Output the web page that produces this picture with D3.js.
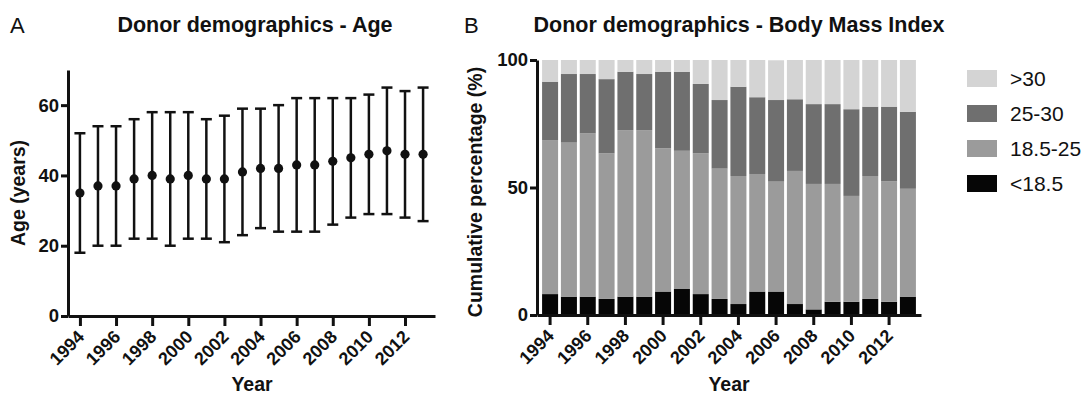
<!DOCTYPE html>
<html>
<head>
<meta charset="utf-8">
<script src="https://cdn.jsdelivr.net/npm/d3@7"></script>
<style>
	body { margin: 0; background: #fff; }
	text { font-family: "Liberation Sans", Arial, Helvetica, sans-serif; fill: #111; }
</style>
</head>
<body>
<script>
	// ---------------- data ----------------
	var years = [1994, 1995, 1996, 1997, 1998, 1999, 2000, 2001, 2002, 2003, 2004, 2005, 2006, 2007, 2008, 2009, 2010, 2011, 2012, 2013];
	var tickYears = [1994, 1996, 1998, 2000, 2002, 2004, 2006, 2008, 2010, 2012];

	// panel A : mean age with range (years)
	var ageMean = [35, 37, 37, 39, 40, 39, 40, 39, 39, 41, 42, 42, 43, 43, 44, 45, 46, 47, 46, 46];
	var ageLow  = [18, 20, 20, 22, 22, 20, 22, 22, 21, 23, 25, 24, 24, 24, 26, 28, 29, 29, 28, 27];
	var ageHigh = [52, 54, 54, 56, 58, 58, 58, 56, 57, 59, 59, 60, 62, 62, 62, 62, 63, 65, 64, 65];
	var ageTicks = [0, 20, 40, 60];

	// panel B : BMI classes, percentage of donors per year
	var bmiClasses = ["<18.5", "18.5-25", "25-30", ">30"];
	var bmiUnder  = [8.2, 7.2, 7.2, 6.3, 7.2, 7.2, 9.2, 10.2, 8.2, 6.3, 4.3, 9.2, 9.2, 4.3, 2.2, 5.2, 5.2, 6.3, 5.2, 7.2];
	var bmiNormal = [60.4, 60.4, 64.0, 57.1, 65.3, 65.3, 56.2, 54.2, 55.2, 51.1, 50.2, 46.1, 43.1, 52.2, 49.2, 46.2, 41.5, 48.2, 47.3, 42.3];
	var bmiOver   = [22.9, 26.9, 23.3, 29.1, 22.9, 22.0, 30.0, 31.0, 27.2, 26.9, 35.0, 30.1, 32.0, 28.1, 31.3, 31.3, 34.0, 27.2, 29.2, 30.2];
	var bmiObese  = [8.5, 5.5, 5.5, 7.5, 4.6, 5.5, 4.6, 4.6, 9.4, 15.7, 10.5, 14.6, 15.6, 15.4, 17.3, 17.3, 19.3, 18.3, 18.3, 20.3];
	var bmiTicks = [0, 50, 100];

	var bmiColors = {"<18.5": "#060606", "18.5-25": "#9b9b9b", "25-30": "#6f6f6f", ">30": "#d4d4d4"};

	var svg = d3.select("body").append("svg")
		.attr("width", 1084)
		.attr("height", 397);

	//--------------------------------styleAxis()---------------------------------
	function styleAxis(g, fontSize) {
		g.select(".domain").attr("stroke", "#111").attr("stroke-width", 3);
		g.selectAll(".tick line").attr("stroke", "#111").attr("stroke-width", 3);
		g.selectAll(".tick text")
			.style("font-size", fontSize + "px")
			.style("font-weight", "bold")
			.attr("fill", "#111");
	};

	function rotateYearLabels(g) {
		g.selectAll(".tick text")
			.attr("x", 0).attr("y", 0).attr("dy", 0)
			.attr("text-anchor", "end")
			.attr("transform", "translate(5,22) rotate(-45)");
	};
	//----------------------------------------------------------------------------

	//=============================== PANEL A ====================================
	var xA = d3.scalePoint().domain(years).range([68, 435]).padding(0.66);
	var yA = d3.scaleLinear().domain([0, 70]).range([316, 70]);

	svg.append("text").attr("x", 10).attr("y", 33)
		.style("font-size", "22px").text("A");
	svg.append("text").attr("x", 255).attr("y", 32).attr("text-anchor", "middle")
		.style("font-size", "21.5px").style("font-weight", "bold")
		.text("Donor demographics - Age");

	var ageRows = years.map(function(y, i) {
		return {year: y, mean: ageMean[i], low: ageLow[i], high: ageHigh[i]};
	});

	var errA = svg.append("g").selectAll("g").data(ageRows).enter().append("g");
	errA.append("line")
		.attr("x1", d => xA(d.year)).attr("x2", d => xA(d.year))
		.attr("y1", d => yA(d.low)).attr("y2", d => yA(d.high))
		.attr("stroke", "#111").attr("stroke-width", 2.5);
	errA.append("line")
		.attr("x1", d => xA(d.year) - 5.5).attr("x2", d => xA(d.year) + 5.5)
		.attr("y1", d => yA(d.high)).attr("y2", d => yA(d.high))
		.attr("stroke", "#111").attr("stroke-width", 2.5);
	errA.append("line")
		.attr("x1", d => xA(d.year) - 5.5).attr("x2", d => xA(d.year) + 5.5)
		.attr("y1", d => yA(d.low)).attr("y2", d => yA(d.low))
		.attr("stroke", "#111").attr("stroke-width", 2.5);
	errA.append("circle")
		.attr("cx", d => xA(d.year)).attr("cy", d => yA(d.mean))
		.attr("r", 4.6).attr("fill", "#111");

	var axA_y = svg.append("g").attr("transform", "translate(68,0)")
		.call(d3.axisLeft(yA).tickValues(ageTicks).tickSize(7).tickSizeOuter(0).tickPadding(2));
	styleAxis(axA_y, 18.5);

	var axA_x = svg.append("g").attr("transform", "translate(0,316)")
		.call(d3.axisBottom(xA).tickValues(tickYears).tickSize(10).tickSizeOuter(0));
	styleAxis(axA_x, 18);
	rotateYearLabels(axA_x);

	svg.append("text")
		.attr("transform", "translate(25,193) rotate(-90)")
		.attr("text-anchor", "middle")
		.style("font-size", "19.5px").style("font-weight", "bold")
		.text("Age (years)");
	svg.append("text").attr("x", 252).attr("y", 391).attr("text-anchor", "middle")
		.style("font-size", "19.5px").style("font-weight", "bold")
		.text("Year");

	//=============================== PANEL B ====================================
	var xB = d3.scaleBand().domain(years).range([537, 921]).paddingInner(0.15).paddingOuter(0.27);
	var yB = d3.scaleLinear().domain([0, 100]).range([315, 60]);

	svg.append("text").attr("x", 464).attr("y", 33)
		.style("font-size", "22px").text("B");
	svg.append("text").attr("x", 739).attr("y", 32).attr("text-anchor", "middle")
		.style("font-size", "21.5px").style("font-weight", "bold")
		.text("Donor demographics - Body Mass Index");

	var bmiRows = years.map(function(y, i) {
		return {year: y, "<18.5": bmiUnder[i], "18.5-25": bmiNormal[i], "25-30": bmiOver[i], ">30": bmiObese[i]};
	});
	var stacked = d3.stack().keys(bmiClasses)(bmiRows);

	svg.append("g").selectAll("g").data(stacked).enter().append("g")
		.attr("fill", d => bmiColors[d.key])
		.selectAll("rect").data(d => d).enter().append("rect")
		.attr("x", d => xB(d.data.year))
		.attr("width", xB.bandwidth())
		.attr("y", d => yB(d[1]))
		.attr("height", d => yB(d[0]) - yB(d[1]));

	var axB_y = svg.append("g").attr("transform", "translate(537,0)")
		.call(d3.axisLeft(yB).tickValues(bmiTicks).tickSize(7).tickSizeOuter(0).tickPadding(2));
	styleAxis(axB_y, 18.5);

	var axB_x = svg.append("g").attr("transform", "translate(0,315)")
		.call(d3.axisBottom(xB).tickValues(tickYears).tickSize(10).tickSizeOuter(0));
	styleAxis(axB_x, 18);
	rotateYearLabels(axB_x);

	svg.append("text")
		.attr("transform", "translate(482,192) rotate(-90)")
		.attr("text-anchor", "middle")
		.style("font-size", "19.5px").style("font-weight", "bold")
		.text("Cumulative percentage (%)");
	svg.append("text").attr("x", 729).attr("y", 391).attr("text-anchor", "middle")
		.style("font-size", "19.5px").style("font-weight", "bold")
		.text("Year");

	// legend, top class first like in the figure
	var legendOrder = bmiClasses.slice().reverse();
	var legend = svg.append("g").selectAll("g").data(legendOrder).enter().append("g")
		.attr("transform", (d, i) => "translate(967," + (70 + i * 35) + ")");
	legend.append("rect").attr("width", 30).attr("height", 17)
		.attr("fill", d => bmiColors[d]);
	legend.append("text").attr("x", 43).attr("y", 8.5).attr("dy", "0.36em")
		.style("font-size", "21px").text(d => d);
</script>
</body>
</html>
